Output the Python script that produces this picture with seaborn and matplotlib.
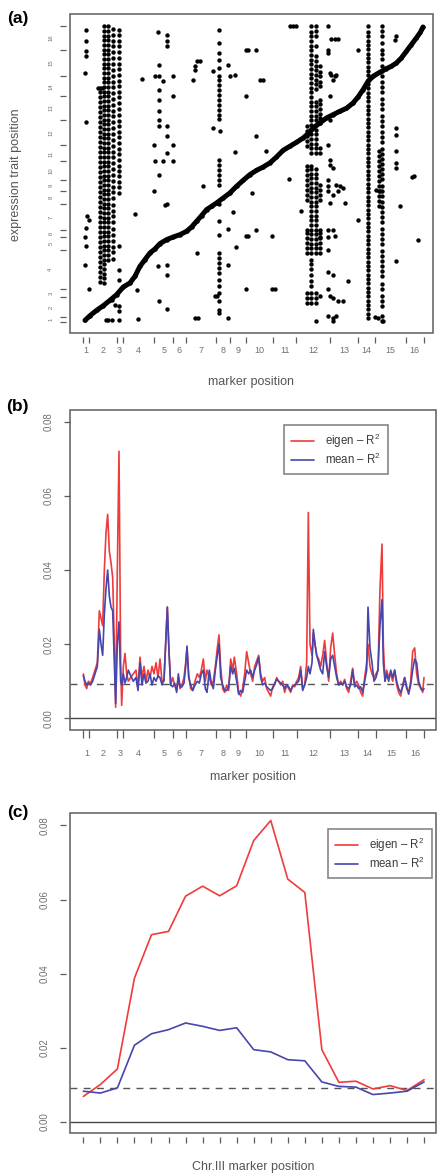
import numpy as np
import pandas as pd
import seaborn as sns
import matplotlib.pyplot as plt
from matplotlib.patches import Rectangle

sns.set_theme(style="white")
plt.rcParams["font.family"] = ["Liberation Sans", "DejaVu Sans"]
plt.rcParams["mathtext.fontset"] = "custom"
plt.rcParams["mathtext.rm"] = "Liberation Sans"

# chromosome boundaries (marker index along genome, expression trait index)
marker_bounds = [0, 18, 100, 118, 213, 270, 307, 398, 440, 488, 570, 640, 740, 825, 877, 968, 1022]
trait_bounds = [0, 16, 75, 101, 216, 256, 276, 356, 395, 427, 483, 531, 608, 678, 738, 818, 888]
chrom_labels = [str(i) for i in range(1, 17)]

# ---- panel (a): eQTL map ----
# cis band along the diagonal
diag_marker = [5, 20, 40, 60, 80, 100, 120, 140, 155, 170, 185, 200, 215, 230, 250, 270, 290, 310,
               325, 340, 355, 370, 385, 400, 420, 440, 460, 480, 500, 520, 540, 560, 580, 600, 620,
               640, 660, 675, 690, 710, 730, 750, 770, 790, 810, 825, 840, 855, 870, 890, 910, 925,
               940, 955, 970, 985, 1000, 1012, 1020]
diag_trait = [6, 20, 36, 50, 66, 83, 106, 118, 138, 168, 188, 208, 220, 236, 248, 256, 263, 273,
              286, 303, 320, 338, 348, 358, 373, 388, 408, 426, 443, 456, 466, 478, 496, 516, 528,
              540, 553, 566, 583, 598, 613, 623, 633, 642, 658, 676, 698, 723, 738, 750, 761, 768,
              778, 793, 813, 833, 853, 870, 886]

# chr2 / chr3 trans hotspot columns
hot2_a = [120, 135, 150, 165, 180, 195, 210, 225, 240, 255, 270, 285, 300, 315, 330, 345, 360, 375,
          390, 405, 420, 435, 450, 465, 480, 495, 510, 525, 540, 555, 570, 585, 600, 615, 630, 645,
          660, 675, 690, 703]
hot2_b = [118, 132, 146, 160, 174, 188, 202, 216, 230, 244, 258, 272, 286, 300, 314, 328, 342, 356,
          370, 384, 398, 412, 426, 440, 454, 468, 482, 496, 510, 524, 538, 552, 566, 580, 594, 608,
          622, 636, 650, 664, 678, 692, 706, 720, 734, 748, 762, 776, 790, 804, 818, 832, 846, 860,
          874, 888]
hot2_c = [188, 202, 216, 230, 244, 258, 272, 286, 300, 314, 328, 342, 356, 370, 384, 398, 412, 426,
          440, 454, 468, 482, 496, 510, 524, 538, 552, 566, 580, 594, 608, 622, 636, 650, 664, 678,
          692, 706, 720, 734, 748, 762, 776, 790, 804, 818, 832, 846, 860, 874, 888]
hot2_d = [190, 210, 225, 245, 262, 280, 300, 318, 335, 352, 372, 390, 405, 425, 442, 460, 478, 495,
          512, 530, 548, 565, 582, 600, 618, 635, 652, 670, 688, 705, 722, 740, 758, 775, 792, 810,
          828, 845, 862, 880]
hot3 = [6, 33, 48, 128, 158, 228, 388, 405, 420, 438, 455, 470, 488, 505, 520, 538, 555, 572, 590,
        605, 622, 640, 658, 675, 692, 708, 725, 742, 760, 775, 792, 810, 828, 845, 862, 878]

# chr8 hotspot column
hot8 = [876, 838, 808, 786, 763, 740, 728, 713, 698, 683, 668, 653, 638, 623, 610, 488, 473, 458,
        443, 428, 413, 356, 305, 263, 208, 193, 178, 163, 148, 128, 108, 88, 63, 38, 28]

# chr12 hotspot columns
hot12_a = [528, 543, 558, 573, 588, 428, 443, 458, 468, 368, 383, 398, 413, 208, 223, 238, 253, 268,
           278, 58, 73, 88]
hot12_b = [508, 522, 536, 550, 564, 578, 592, 606, 620, 634, 648, 662, 676, 690, 704, 718, 732, 746,
           760, 774, 788, 802, 816, 830, 844, 858, 872, 888, 208, 222, 236, 250, 264, 278, 292, 306,
           320, 334, 348, 362, 376, 390, 404, 418, 432, 446, 460, 468, 108, 125, 142, 160, 175, 188,
           58, 73, 88]
hot12_c = [508, 522, 536, 550, 564, 578, 592, 606, 620, 634, 648, 662, 700, 714, 728, 742, 756, 770,
           784, 800, 830, 860, 875, 888, 208, 222, 236, 250, 264, 278, 292, 306, 320, 334, 348, 362,
           376, 390, 404, 418, 432, 446, 460, 58, 73, 88, 3]
hot12_d = [708, 722, 738, 752, 768, 598, 612, 626, 640, 654, 668, 508, 522, 368, 383, 398, 413, 208,
           223, 238, 253, 268, 278, 78]

# chr14 and chr15 hotspot columns
hot14 = [13, 26, 39, 52, 65, 78, 91, 104, 117, 130, 143, 156, 169, 182, 195, 208, 221, 234, 247,
         260, 273, 286, 299, 312, 325, 338, 351, 364, 377, 390, 403, 416, 429, 442, 455, 468, 481,
         494, 507, 520, 533, 546, 559, 572, 585, 598, 611, 624, 637, 650, 663, 676, 689, 702, 715,
         728, 741, 754, 767, 780, 793, 806, 819, 832, 845, 858, 871, 888]
hot15_a = [3, 18, 48, 63, 78, 100, 115, 140, 155, 170, 185, 200, 215, 235, 250, 265, 280, 300, 315,
           330, 345, 360, 380, 395, 410, 430, 445, 460, 475, 490, 505, 520, 540, 555, 570, 590, 605,
           620, 640, 655, 670, 690, 705, 720, 740, 755, 770, 790, 805, 818, 838, 858, 873, 888]
hot15_b = [350, 365, 380, 395, 410, 425, 440, 455, 470, 485, 500, 515]

# scattered single linkages
sparse_marker = [8, 8, 8, 8, 5, 8, 12, 18, 8, 5, 8, 5, 18,
                 175, 155, 160, 165,
                 225, 250, 250, 250, 228, 215, 228, 240, 268, 228, 268, 228, 228, 228, 228, 250, 250,
                 212, 250, 268, 215, 240, 268, 228, 212, 250, 245, 225, 250, 250, 228, 250,
                 350, 340, 335, 335, 330, 360, 340, 335, 345,
                 390, 390, 410, 395, 400, 435, 435, 435, 435,
                 440, 455, 455, 450, 458, 488, 488, 495, 488, 505, 488, 495, 518, 530, 540, 520, 550,
                 518, 568, 568, 575,
                 620, 630, 640, 618, 655,
                 735, 735, 735, 740, 740, 740, 735, 740, 740, 735, 735, 735, 740, 735, 735, 735, 735,
                 750, 735, 740, 750, 735, 750, 760, 750, 745, 755, 765, 745, 755, 760, 750, 750, 760,
                 770, 780, 750, 765, 785, 755, 710, 795, 780, 765, 750,
                 825, 825,
                 940, 935, 938, 938, 938, 940, 940, 950, 940, 993, 988, 1005, 880, 890, 885, 875, 900,
                 68, 75, 85, 85, 95, 45, 55]
sparse_trait = [878, 845, 813, 800, 748, 601, 320, 306, 282, 256, 228, 173, 100,
                731, 326, 98, 11,
                871, 863, 843, 828, 773, 740, 738, 723, 738, 698, 678, 666, 633, 608, 588, 588, 558,
                531, 508, 531, 483, 483, 483, 441, 395, 356, 352, 168, 173, 143, 63, 41,
                783, 783, 768, 756, 728, 410, 208, 13, 13,
                753, 583, 575, 78, 78, 773, 13, 171, 280,
                740, 741, 511, 330, 226, 678, 258, 258, 100, 388, 818, 818, 818, 728, 728, 560, 515,
                278, 258, 100, 100,
                888, 888, 888, 431, 335,
                888, 818, 808, 748, 678, 608, 531, 488, 473, 428, 408, 393, 358, 276, 256, 216, 150,
                143, 100, 78, 73, 18, 13, 18, 3, 851, 851, 851, 743, 740, 743, 728, 463, 413,
                408, 403, 383, 393, 358, 258, 256, 123, 63, 63, 278,
                818, 308,
                858, 848, 583, 563, 513, 478, 463, 348, 183, 438, 435, 246, 398, 393, 13, 16, 3,
                6, 6, 6, 68, 53, 703, 703]

# ---- panel (b): genome-wide R^2 ----
scan_marker = [0, 5, 10, 15, 22, 28, 35, 42, 48, 53,
               58, 63, 68, 73, 78, 83, 88, 93, 97, 102,
               107, 112, 115, 120, 125, 130, 135, 142, 150, 158,
               164, 170, 176, 182, 188, 194, 200, 206, 212, 218,
               224, 230, 236, 242, 247, 252, 257, 262, 268, 274,
               280, 285, 290, 296, 302, 307, 311, 316, 322, 328,
               335, 342, 348, 354, 360, 366, 371, 378, 384, 390,
               396, 402, 407, 412, 418, 424, 430, 436, 442, 448,
               453, 460, 466, 472, 478, 484, 490, 496, 502, 508,
               514, 520, 526, 532, 538, 544, 550, 556, 562, 568,
               574, 580, 586, 592, 598, 604, 610, 616, 622, 628,
               634, 640, 646, 652, 658, 664, 670, 675, 680, 686,
               690, 695, 700, 706, 712, 718, 724, 730, 736, 742,
               748, 754, 760, 766, 772, 778, 784, 790, 796, 802,
               808, 814, 820, 826, 832, 838, 844, 850, 854, 860,
               866, 872, 878, 884, 890, 896, 900, 905, 910, 916,
               922, 928, 934, 940, 946, 952, 958, 964, 970, 976,
               982, 988, 994, 1000, 1006, 1012, 1018, 1022]
eigen_r2 = [.0120, .0090, .0080, .0100, .0095, .0110, .0130, .0150, .0290, .0270,
            .0250, .0400, .0500, .0550, .0450, .0420, .0380, .0200, .0030, .0400,
            .0720, .0150, .0035, .0140, .0175, .0120, .0100, .0110, .0120, .0130,
            .0080, .0165, .0110, .0140, .0100, .0130, .0110, .0140, .0120, .0150,
            .0110, .0160, .0100, .0100, .0200, .0300, .0180, .0090, .0110, .0090,
            .0075, .0110, .0080, .0090, .0110, .0150, .0190, .0120, .0080, .0075,
            .0100, .0120, .0110, .0130, .0160, .0100, .0130, .0110, .0090, .0100,
            .0140, .0190, .0225, .0140, .0080, .0070, .0090, .0075, .0160, .0130,
            .0165, .0120, .0070, .0060, .0080, .0120, .0180, .0150, .0120, .0100,
            .0140, .0155, .0170, .0120, .0100, .0110, .0080, .0070, .0060, .0085,
            .0090, .0110, .0100, .0090, .0100, .0070, .0090, .0080, .0070, .0090,
            .0085, .0100, .0110, .0140, .0080, .0090, .0150, .0555, .0200, .0170,
            .0230, .0200, .0170, .0160, .0140, .0170, .0210, .0150, .0100, .0190,
            .0230, .0170, .0120, .0090, .0100, .0090, .0105, .0080, .0070, .0100,
            .0135, .0090, .0100, .0090, .0070, .0060, .0110, .0150, .0200, .0140,
            .0120, .0110, .0120, .0130, .0350, .0470, .0200, .0100, .0130, .0110,
            .0120, .0100, .0130, .0090, .0070, .0060, .0090, .0110, .0080, .0070,
            .0100, .0180, .0190, .0120, .0090, .0085, .0070, .0110]
mean_r2 = [.0115, .0100, .0090, .0095, .0090, .0100, .0120, .0140, .0240, .0200,
           .0170, .0280, .0350, .0400, .0330, .0300, .0290, .0150, .0040, .0200,
           .0260, .0100, .0090, .0120, .0095, .0110, .0130, .0115, .0100, .0110,
           .0075, .0150, .0090, .0120, .0095, .0100, .0120, .0090, .0110, .0100,
           .0115, .0110, .0090, .0105, .0200, .0300, .0180, .0090, .0085, .0095,
           .0070, .0120, .0085, .0085, .0095, .0140, .0195, .0110, .0090, .0075,
           .0090, .0100, .0095, .0120, .0130, .0080, .0070, .0130, .0095, .0080,
           .0130, .0170, .0200, .0110, .0090, .0075, .0075, .0085, .0140, .0120,
           .0135, .0100, .0065, .0075, .0070, .0100, .0130, .0120, .0130, .0110,
           .0130, .0145, .0165, .0110, .0090, .0095, .0085, .0080, .0075, .0080,
           .0095, .0105, .0100, .0095, .0090, .0080, .0090, .0085, .0075, .0085,
           .0090, .0095, .0100, .0130, .0075, .0090, .0110, .0140, .0120, .0150,
           .0240, .0200, .0170, .0150, .0130, .0120, .0180, .0140, .0110, .0160,
           .0170, .0140, .0110, .0090, .0095, .0090, .0100, .0085, .0080, .0090,
           .0130, .0085, .0090, .0080, .0085, .0070, .0100, .0130, .0300, .0190,
           .0150, .0100, .0110, .0130, .0250, .0320, .0150, .0100, .0120, .0100,
           .0130, .0110, .0130, .0100, .0080, .0070, .0085, .0110, .0085, .0065,
           .0090, .0130, .0160, .0150, .0100, .0080, .0075, .0080]

# ---- panel (c): chromosome III markers ----
chr3_marker = list(range(1, 22))
chr3_eigen = [.0069, .0101, .0143, .0388, .0505, .0514, .0609, .0636, .0610, .0637, .0759,
              .0813, .0655, .0619, .0195, .0107, .0110, .0089, .0098, .0085, .0114]
chr3_mean = [.0083, .0078, .0092, .0207, .0238, .0249, .0267, .0258, .0247, .0254, .0195,
             .0189, .0168, .0165, .0108, .0096, .0094, .0074, .0078, .0083, .0108]

threshold = 0.0092

assert len(diag_marker) == len(diag_trait)
assert len(sparse_marker) == len(sparse_trait)
assert len(scan_marker) == len(eigen_r2) == len(mean_r2)

RED = "#ef3b3b"
BLUE = "#4646ad"
BOX = "#5c5c5c"
TICKTXT = "#707070"
LABTXT = "#555555"

W, H = 437, 1173
fig = plt.figure(figsize=(W / 100, H / 100), dpi=100)


def px_axes(l, t, r, b):
    return fig.add_axes([l / W, 1 - b / H, (r - l) / W, (b - t) / H])


def style(ax, gap):
    for s in ax.spines.values():
        s.set_visible(False)
    ax.spines["bottom"].set_position(("outward", gap))
    ax.spines["left"].set_position(("outward", gap))
    ax.add_patch(Rectangle((0, 0), 1, 1, transform=ax.transAxes, fill=False,
                           ec=BOX, lw=1.1, clip_on=False, zorder=6))
    ax.tick_params(which="major", direction="out", length=4.5, width=0.9, color=BOX,
                   labelcolor=TICKTXT, bottom=True, left=True)
    ax.grid(False)


def style_legend(ax, anchor):
    leg = ax.legend(loc="upper right", bbox_to_anchor=anchor, borderaxespad=0,
                    fontsize=8.3, frameon=True, fancybox=False, handlelength=2.0,
                    handletextpad=0.9, labelspacing=0.12, borderpad=0.62)
    leg.get_frame().set_edgecolor(BOX)
    leg.get_frame().set_linewidth(1.1)
    for t in leg.get_texts():
        t.set_color("#3c3c3c")


# ---------------- (a) ----------------
ax1 = px_axes(70, 14, 433, 333)
cols = [(50, hot2_a), (62, hot2_b), (75, hot2_c), (88, hot2_d), (106, hot3), (407, hot8),
        (672, hot12_a), (685, hot12_b), (698, hot12_c), (710, hot12_d), (855, hot14),
        (897, hot15_a), (889, hot15_b)]
frames = [pd.DataFrame({"marker": m, "trait": t}) for m, t in cols]
frames.append(pd.DataFrame({"marker": sparse_marker, "trait": sparse_trait}))
frames.append(pd.DataFrame({"marker": diag_marker, "trait": diag_trait}))
pts = pd.concat(frames, ignore_index=True)

sns.lineplot(x=diag_marker, y=diag_trait, ax=ax1, color="black", lw=3.6,
             sort=False, estimator=None, solid_capstyle="round")
sns.scatterplot(data=pts, x="marker", y="trait", ax=ax1, color="black", s=10,
                linewidth=0, zorder=3)
ax1.set_xlim(-40, 1050)
ax1.set_ylim(-32, 925)
style(ax1, 3)

mc = [(marker_bounds[i] + marker_bounds[i + 1]) / 2 for i in range(16)]
tc = [(trait_bounds[i] + trait_bounds[i + 1]) / 2 for i in range(16)]
ax1.set_xticks(marker_bounds, labels=[""] * len(marker_bounds))
ax1.set_xticks(mc, labels=chrom_labels, minor=True)
ax1.set_yticks(trait_bounds, labels=[""] * len(trait_bounds))
ax1.set_yticks(tc, labels=chrom_labels, minor=True)
ax1.tick_params(axis="x", which="minor", length=0, labelsize=6.5, pad=6.5, labelcolor=TICKTXT)
ax1.tick_params(axis="y", which="minor", length=0, labelsize=4.2, pad=9, labelcolor=TICKTXT,
                labelrotation=90)
for lab in ax1.get_yticklabels(minor=True):
    lab.set_va("center")
ax1.set_xlabel("")
ax1.set_ylabel("")

# ---------------- (b) ----------------
ax2 = px_axes(70, 410, 436, 730)
ax2.axhline(0, color="#474747", lw=1.0, zorder=1)
ax2.axhline(threshold, color="#555555", lw=1.0, ls=(0, (5, 4.5)), zorder=1)
sns.lineplot(x=scan_marker, y=eigen_r2, ax=ax2, color=RED, lw=1.2, sort=False,
             estimator=None, label="eigen – R$^2$", zorder=3)
sns.lineplot(x=scan_marker, y=mean_r2, ax=ax2, color=BLUE, lw=1.2, sort=False,
             estimator=None, label="mean – R$^2$", zorder=4)
ax2.set_xlim(-40, 1058)
ax2.set_ylim(-0.00315, 0.08315)
style(ax2, 0)
ax2.set_xticks(marker_bounds, labels=[""] * len(marker_bounds))
ax2.set_xticks(mc, labels=chrom_labels, minor=True)
ax2.tick_params(axis="x", which="major", length=6)
ax2.tick_params(axis="x", which="minor", length=0, labelsize=6.5, pad=13.5, labelcolor=TICKTXT)
ax2.set_yticks([0, 0.02, 0.04, 0.06, 0.08], labels=["0.00", "0.02", "0.04", "0.06", "0.08"])
ax2.tick_params(axis="y", labelsize=7, pad=7, labelrotation=90)
for lab in ax2.get_yticklabels():
    lab.set_va("center")
ax2.set_xlabel("")
ax2.set_ylabel("")
style_legend(ax2, ((388 - 70) / 366, (730 - 425) / 320))

# ---------------- (c) ----------------
ax3 = px_axes(70, 813, 436, 1133)
ax3.axhline(0, color="#474747", lw=1.0, zorder=1)
ax3.axhline(threshold, color="#555555", lw=1.0, ls=(0, (5, 4.5)), zorder=1)
sns.lineplot(x=chr3_marker, y=chr3_eigen, ax=ax3, color=RED, lw=1.2, sort=False,
             estimator=None, label="eigen – R$^2$", zorder=3)
sns.lineplot(x=chr3_marker, y=chr3_mean, ax=ax3, color=BLUE, lw=1.2, sort=False,
             estimator=None, label="mean – R$^2$", zorder=4)
ax3.set_xlim(0.217, 21.7)
ax3.set_ylim(-0.00297, 0.08333)
style(ax3, 3)
ax3.set_xticks(chr3_marker, labels=[""] * len(chr3_marker))
ax3.set_yticks([0, 0.02, 0.04, 0.06, 0.08], labels=["0.00", "0.02", "0.04", "0.06", "0.08"])
ax3.tick_params(axis="y", labelsize=7, pad=7, labelrotation=90)
for lab in ax3.get_yticklabels():
    lab.set_va("center")
ax3.set_xlabel("")
ax3.set_ylabel("")
style_legend(ax3, ((432 - 70) / 366, (1133 - 829) / 320))

# axis titles and panel tags
fig.text(251.5 / W, 1 - 381.5 / H, "marker position", ha="center", va="center",
         fontsize=9, color=LABTXT)
fig.text(16.5 / W, 1 - 175 / H, "expression trait position", ha="center", va="center",
         fontsize=9, color=LABTXT, rotation=90)
fig.text(253 / W, 1 - 777 / H, "marker position", ha="center", va="center",
         fontsize=9, color=LABTXT)
fig.text(253 / W, 1 - 1167 / H, "Chr.III marker position", ha="center", va="center",
         fontsize=9, color=LABTXT)
for tag, ypx in [("(a)", 19), ("(b)", 407), ("(c)", 812)]:
    fig.text(17.5 / W, 1 - ypx / H, tag, ha="center", va="center", fontsize=12.5,
             fontweight="bold", color="black")

fig.savefig("out.png", dpi=100)
